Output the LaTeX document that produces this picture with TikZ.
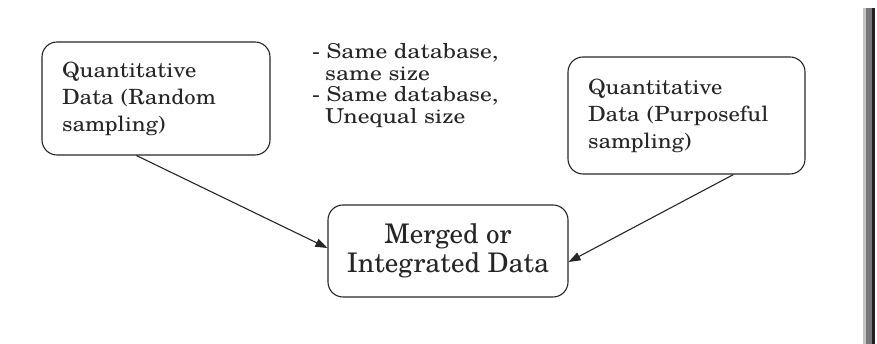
\documentclass[tikz,border=0pt]{standalone}
\usepackage{fontspec}
\setmainfont{TeX Gyre Schola}
\newfontfamily\boxfont[FakeStretch=1.08]{TeX Gyre Schola}
\newfontfamily\listfont[FakeStretch=1.15]{TeX Gyre Schola}
\usetikzlibrary{arrows.meta}
\definecolor{ink}{HTML}{262626}
\definecolor{barlight}{HTML}{C4C4C4}
\definecolor{barmid}{HTML}{77777B}
\definecolor{bardark}{HTML}{231F20}
\tikzset{
  databox/.style={draw=ink, line width=1.1pt, rounded corners=15pt, text=ink,
    inner xsep=20pt, inner ysep=0pt, align=left},
  flow/.style={draw=ink, line width=1.1pt, -{Triangle[length=12pt,width=8.5pt]}},
}
\begin{document}
\begin{tikzpicture}[x=1pt,y=1pt]
\useasboundingbox (0,0) rectangle (877,344);
% side bar
\fill[barlight] (863,0) rectangle (866,336);
\fill[barmid] (866,0) rectangle (872,336);
\fill[bardark] (872,0) rectangle (875,336);
% boxes
\node[databox, minimum width=228pt, minimum height=113pt, text width=188pt,
  font=\boxfont\fontsize{21}{27}\selectfont] (lbox) at (156,245.5)
  {Quantitative\\Data (Random\\sampling)};
\node[databox, minimum width=237pt, minimum height=117pt, text width=197pt,
  font=\boxfont\fontsize{21}{27}\selectfont] (rbox) at (686.5,228.5)
  {Quantitative\\Data (Purposeful\\sampling)};
\node[databox, align=center, inner xsep=10pt, minimum width=240pt, minimum height=92pt,
  font=\fontsize{27}{29}\selectfont] (mbox) at (448,93)
  {Merged or\\Integrated Data};
% list text
\node[anchor=north west, inner sep=0pt, align=left, text=ink,
  font=\listfont\fontsize{20.5}{21.7}\selectfont] (list) at (312,301)
  {- Same database,\\\hspace*{13pt}same size\\- Same database,\\\hspace*{13pt}Unequal size};
% connectors
\draw[flow] ([xshift=95pt]lbox.south west) -- ([yshift=3pt]mbox.west);
\draw[flow] ([xshift=166pt]rbox.south west) -- ([yshift=-11pt]mbox.east);
\end{tikzpicture}
\end{document}
